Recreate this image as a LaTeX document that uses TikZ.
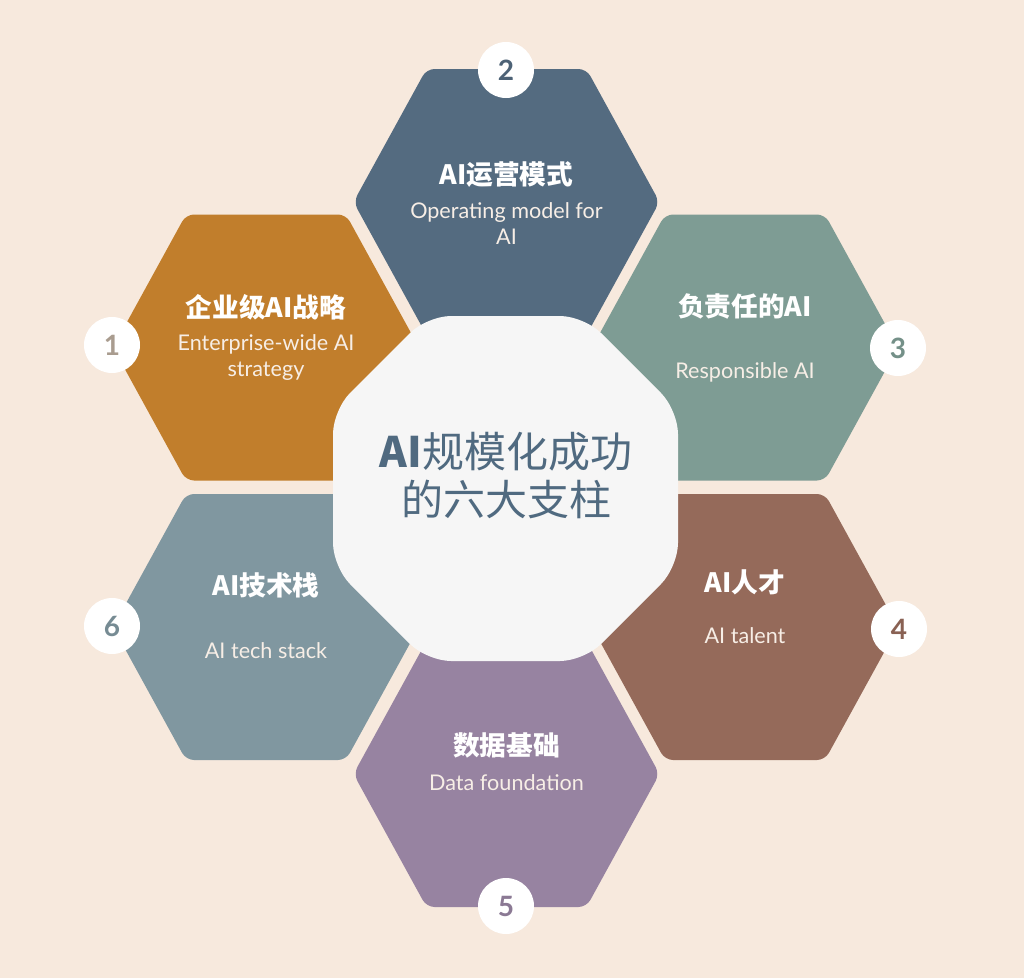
\documentclass[tikz,border=0pt]{standalone}
\usepackage{fontspec}
\setmainfont{Lato}
\newfontfamily\cjk{Noto Sans CJK SC}
\definecolor{bg}{HTML}{F7E9DD}
\definecolor{horange}{HTML}{C17E2C}
\definecolor{hblue}{HTML}{546B80}
\definecolor{hteal}{HTML}{7E9C94}
\definecolor{hbrown}{HTML}{956A5A}
\definecolor{hpurple}{HTML}{9783A1}
\definecolor{hgray}{HTML}{8097A0}
\definecolor{octfill}{HTML}{F6F6F6}
\definecolor{ctext}{HTML}{506A80}
\definecolor{subtext}{HTML}{F7EEE6}
\definecolor{numone}{HTML}{A99C8F}
\newcommand\hexshape[3]{%
  \fill[#3,rounded corners=6pt] (#1-153,#2) -- (#1-80,#2-133) -- (#1+80,#2-133) -- (#1+153,#2) -- (#1+80,#2+133) -- (#1-80,#2+133) -- cycle;}
\begin{document}
\begin{tikzpicture}[x=0.75pt,y=-0.75pt,
  title/.style={text=white,font=\cjk\bfseries\fontsize{20}{24}\selectfont,inner sep=0pt},
  sub/.style={text=subtext,font=\fontsize{16.2}{20}\selectfont,align=center,inner sep=0pt},
  numc/.style={circle,fill=white,minimum size=42pt,inner sep=0pt,font=\bfseries\fontsize{21}{21}\selectfont}]
\useasboundingbox (0,0) rectangle (1024,978);
\fill[bg] (0,0) rectangle (1024,978);
\hexshape{266}{347.5}{horange}
\hexshape{506.5}{202}{hblue}
\hexshape{745}{347.5}{hteal}
\hexshape{745}{627}{hbrown}
\hexshape{506.5}{774}{hpurple}
\hexshape{266}{627}{hgray}
% central octagon
\fill[octfill,rounded corners=18pt] (427,316) -- (584,316) -- (678,410) -- (678,567) -- (584,661) -- (427,661) -- (333,567) -- (333,410) -- cycle;
\node[align=center,text=ctext,font=\cjk\fontsize{31.5}{36}\selectfont,inner sep=0pt] (center) at (506,476) {{\bfseries AI}规模化成功\\的六大支柱};
% titles and subtitles
\node[title] (t1) at (266,307) {企业级AI战略};
\node[sub] (s1) at (266,357.5) {Enterprise-wide AI\\strategy};
\node[title] (t2) at (506.5,175) {AI运营模式};
\node[sub] (s2) at (506.5,223.5) {Operating model for\\AI};
\node[title] (t3) at (745,306) {负责任的AI};
\node[sub] (s3) at (745,372) {Responsible AI};
\node[title] (t4) at (745,582) {AI人才};
\node[sub] (s4) at (745,636) {AI talent};
\node[title] (t5) at (506.5,745) {数据基础};
\node[sub] (s5) at (506.5,783) {Data foundation};
\node[title] (t6) at (266,585) {AI技术栈};
\node[sub] (s6) at (266,651) {AI tech stack};
% number badges
\node[numc,text=numone] (n1) at (112,345) {1};
\node[numc,text=hblue!92!black] (n2) at (506,70) {2};
\node[numc,text=hteal!92!black] (n3) at (898,348) {3};
\node[numc,text=hbrown!92!black] (n4) at (899,629) {4};
\node[numc,text=hpurple!92!black] (n5) at (506,906) {5};
\node[numc,text=hgray!92!black] (n6) at (112,626) {6};
\end{tikzpicture}
\end{document}
